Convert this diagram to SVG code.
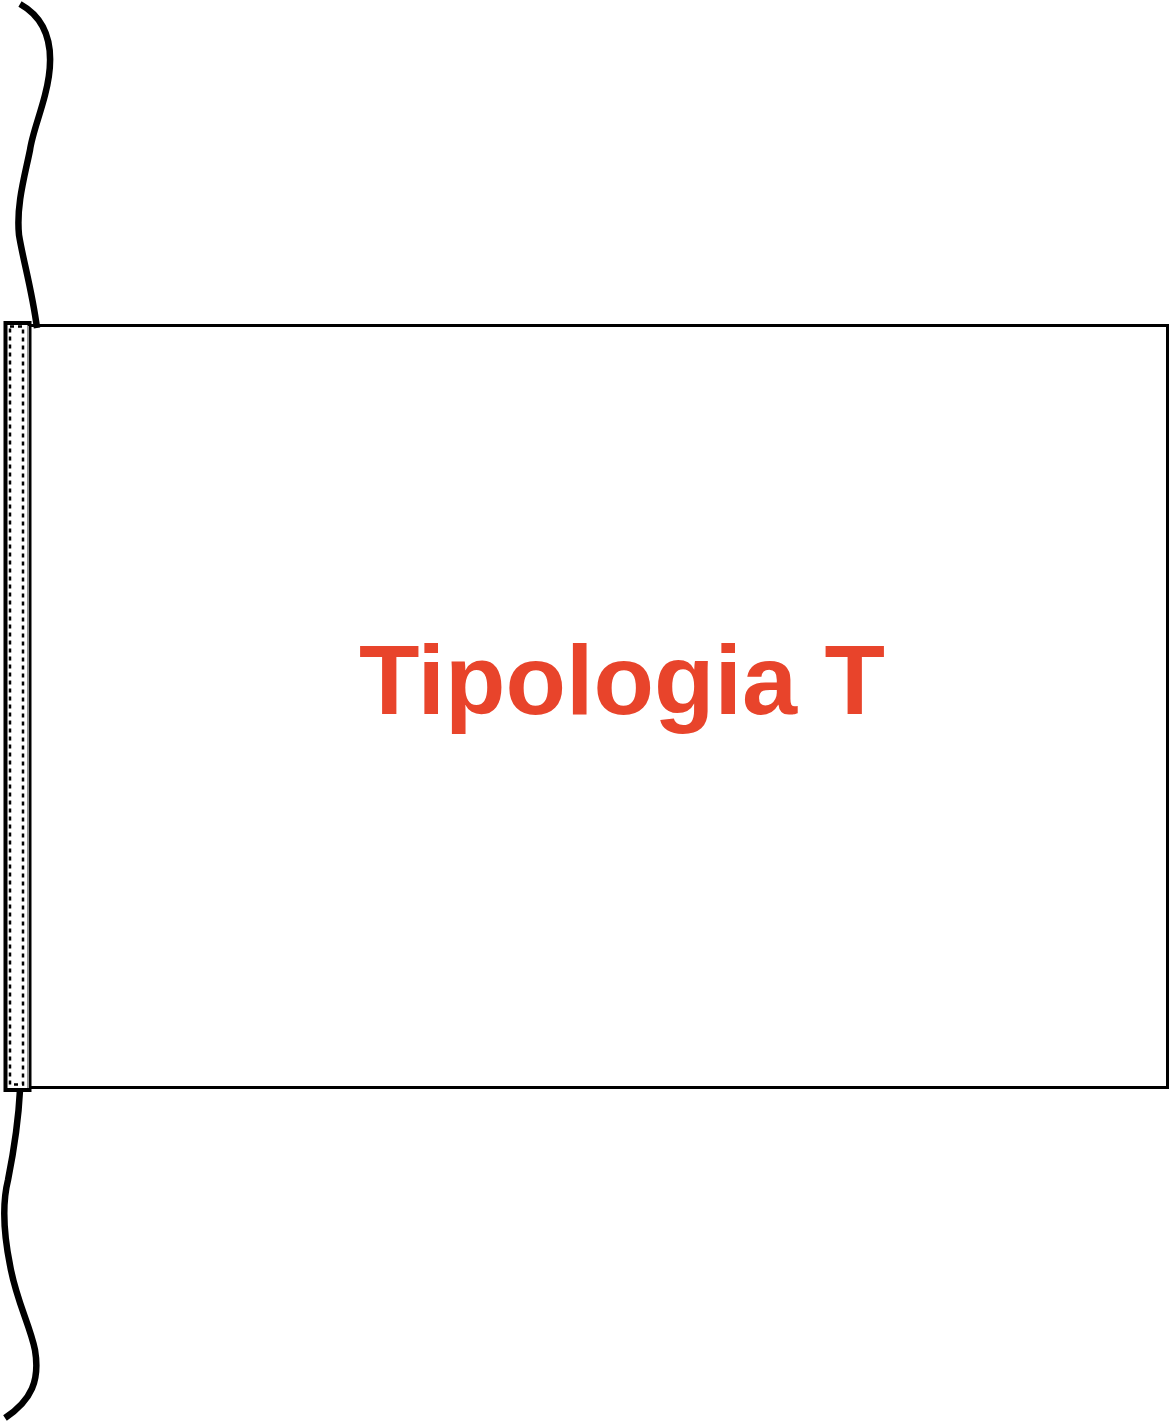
<svg xmlns="http://www.w3.org/2000/svg" width="1175" height="1423" viewBox="0 0 1175 1423">
<style>
.rope{fill:none;stroke:#000;stroke-width:6.5;stroke-linecap:butt}
.label{font-family:"Liberation Sans",Arial,sans-serif;font-weight:bold;font-size:99px;fill:#E8442B}
</style>
<rect width="1175" height="1423" fill="#fff"/>
<g id="flag">
<rect x="29.5" y="325.5" width="1138" height="762" fill="#fff" stroke="#000" stroke-width="3"/>
</g>
<g id="sleeve">
<rect x="5.5" y="323" width="24" height="767" fill="#fff" stroke="#000" stroke-width="4"/>
<rect x="10" y="326.5" width="13" height="758" fill="none" stroke="#000" stroke-width="2.5" stroke-dasharray="4,4"/>
<line x1="28" y1="326" x2="28" y2="1088" stroke="#999" stroke-width="2"/>
</g>
<g id="ropes">
<path class="rope" d="M20,4 C45,18 58,45 45,95 C40,115 32,135 30,150 C25,175 16,205 19,235 C23,260 32,290 37,328"/>
<path class="rope" d="M20,1090 C18,1130 12,1160 8,1180 C3,1200 3,1230 10,1265 C16,1300 30,1325 35,1350 C40,1380 32,1400 5,1418"/>
</g>
<g id="title">
<text class="label" x="622" y="714" text-anchor="middle">Tipologia T</text>
</g>
</svg>
